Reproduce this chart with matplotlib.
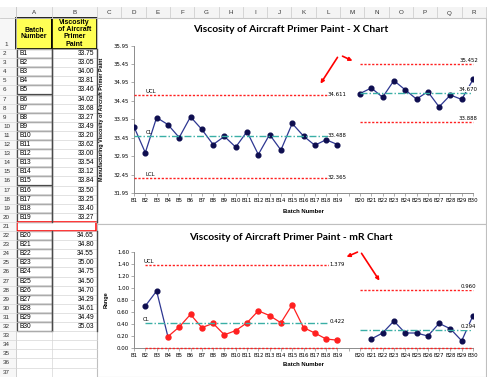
import numpy as np
import matplotlib.pyplot as plt
from matplotlib.patches import Rectangle

plt.rcParams['font.family'] = ['Liberation Sans', 'DejaVu Sans']

# Batch data, first run (B1-B19) and second run (B20-B30)
batches_1 = ['B%d' % i for i in range(1, 20)]
visc_1 = [33.75, 33.05, 34.00, 33.81, 33.46, 34.02, 33.68, 33.27, 33.49, 33.20,
          33.62, 33.00, 33.54, 33.12, 33.84, 33.50, 33.25, 33.40, 33.27]
batches_2 = ['B%d' % i for i in range(20, 31)]
visc_2 = [34.65, 34.80, 34.55, 35.00, 34.75, 34.50, 34.70, 34.29, 34.61, 34.49, 35.03]

# moving ranges (B2-B19 and B21-B30)
mr_1 = [0.70, 0.95, 0.19, 0.35, 0.56, 0.34, 0.41, 0.22, 0.29, 0.42, 0.62, 0.54,
        0.42, 0.72, 0.34, 0.25, 0.15, 0.13]
mr_2 = [0.15, 0.25, 0.45, 0.25, 0.25, 0.20, 0.41, 0.32, 0.12, 0.54]

# control limits for each run
x_lim_1 = {'UCL': 34.611, 'CL': 33.488, 'LCL': 32.365}
x_lim_2 = {'UCL': 35.452, 'CL': 34.670, 'LCL': 33.888}
mr_lim_1 = {'UCL': 1.379, 'CL': 0.422, 'LCL': 0.0}
mr_lim_2 = {'UCL': 0.960, 'CL': 0.294, 'LCL': 0.0}

cat_labels = batches_1 + [''] + batches_2
idx_1 = np.arange(0, 19)
idx_2 = np.arange(20, 31)

NAVY_LINE = '#2E3792'
NAVY_DOT = '#0E0E50'
RED = '#FF2020'
TEAL = '#3AAFA6'

W, H = 487, 377
fig = plt.figure(figsize=(W / 100, H / 100), dpi=100)

#----- worksheet background -----
bg = fig.add_axes([0, 0, 1, 1])
bg.set_xlim(0, W)
bg.set_ylim(H, 0)
bg.axis('off')

col_edges = [0, 16, 52, 97] + [97 + 24.3 * k for k in range(1, 17)]
col_names = ['', 'A', 'B'] + list('CDEFGHIJKLMNOPQR')
head_top, head_bot = 7, 18
row1_bot = 49
rh = 9.1

def row_top(r):
    return row1_bot + (r - 2) * rh

# column header band
bg.add_patch(Rectangle((0, head_top), W, head_bot - head_top, fc='#F4F4F4', ec='none'))
for i in range(len(col_edges) - 1):
    x0, x1 = col_edges[i], col_edges[i + 1]
    bg.plot([x1, x1], [head_top, head_bot], color='#D0D0D0', lw=0.6)
    bg.text((x0 + x1) / 2, 13, col_names[i], ha='center', va='center',
            fontsize=4.5, color='#333333')
bg.plot([0, W], [head_bot, head_bot], color='#C8C8C8', lw=0.6)

# row number column
bg.add_patch(Rectangle((0, head_bot), 16, H - head_bot, fc='#F7F7F7', ec='none'))
bg.plot([16, 16], [head_top, H], color='#C8C8C8', lw=0.6)
bg.text(4, 45, '1', ha='left', va='center', fontsize=4.5, color='#333333')
for r in range(2, 38):
    yc = row_top(r) + rh / 2
    bg.text(3, yc, str(r), ha='left', va='center', fontsize=4.5, color='#333333')
    bg.plot([0, 97], [row_top(r), row_top(r)], color='#D6D6D6', lw=0.5)

# header cells
bg.add_patch(Rectangle((16, head_bot), 36, row1_bot - head_bot, fc='#FFFF55',
                       ec='black', lw=1.2))
bg.add_patch(Rectangle((52, head_bot), 45, row1_bot - head_bot, fc='#FFFF55',
                       ec='black', lw=1.2))
bg.text(34, 30, 'Batch', ha='center', va='center', fontsize=5, fontweight='bold')
bg.text(34, 37, 'Number', ha='center', va='center', fontsize=5, fontweight='bold')
for k, s in enumerate(['Viscosity', 'of Aircraft', 'Primer', 'Paint']):
    bg.text(74.5, 22 + k * 7.5, s, ha='center', va='center', fontsize=5,
            fontweight='bold')

# batch cells
def batch_cell(r, name, val):
    y0 = row_top(r)
    bg.add_patch(Rectangle((16.5, y0), 35, rh, fc='white', ec='#4A4A4A', lw=0.9))
    bg.text(19, y0 + rh / 2, name, ha='left', va='center', fontsize=4.8)
    bg.text(94, y0 + rh / 2, '%.2f' % val, ha='right', va='center', fontsize=4.8)

for k in range(19):
    batch_cell(k + 2, batches_1[k], visc_1[k])
for k in range(11):
    batch_cell(k + 22, batches_2[k], visc_2[k])
for (r0, r1) in [(2, 21), (22, 33)]:
    bg.plot([52, 52], [row_top(r0), row_top(r1)], color='#4A4A4A', lw=1.0)
    bg.plot([96.5, 96.5], [row_top(r0), row_top(r1)], color='#4A4A4A', lw=1.0)
bg.add_patch(Rectangle((17, row_top(21) + 0.5), 79, rh - 1, fc='none', ec='red', lw=1.1))
bg.plot([52, 52], [row_top(33), H], color='#D6D6D6', lw=0.5)

# chart frames
bg.add_patch(Rectangle((97, head_bot), 389, 224 - head_bot, fc='white', ec='#BFBFBF', lw=0.8))
bg.add_patch(Rectangle((97, 224), 389, H - 224, fc='white', ec='#BFBFBF', lw=0.8))

def make_axes(top, bottom):
    left, right = 134, 473
    ax = fig.add_axes([left / W, 1 - bottom / H, (right - left) / W, (bottom - top) / H])
    ax.patch.set_alpha(0)
    for s in ['top', 'right']:
        ax.spines[s].set_visible(False)
    for s in ['left', 'bottom']:
        ax.spines[s].set_color('#8C8C8C')
        ax.spines[s].set_linewidth(0.7)
    ax.set_xlim(0, 30)
    ax.set_xticks(np.arange(31))
    ax.set_xticklabels(cat_labels, fontsize=3.9, family='DejaVu Sans')
    ax.tick_params(axis='both', length=2, width=0.5, color='#8C8C8C', pad=1.5)
    ax.tick_params(axis='y', labelsize=3.9)
    for t in ax.get_yticklabels():
        t.set_family('DejaVu Sans')
    return ax

def limit_lines(ax, idx, lims, val_pos, val_dy, name_pos=None):
    for key in ['UCL', 'CL', 'LCL']:
        v = lims[key]
        if key == 'CL':
            ax.plot(idx, [v] * len(idx), color=TEAL, lw=1.0, ls=(0, (5, 1.5, 1, 1.5)), zorder=4)
        else:
            ax.plot(idx, [v] * len(idx), color=RED, lw=1.0, ls=(0, (1.6, 1.2)), zorder=4,
                    clip_on=False)
        if key == 'LCL' and v == 0:
            continue
        ax.annotate('%.3f' % v, (val_pos, v), xytext=(0, val_dy), textcoords='offset points',
                    ha='center', va='center', fontsize=3.9, family='DejaVu Sans', zorder=5,
                    bbox=dict(fc='white', ec='none', pad=0.2))
        if name_pos is not None:
            ax.annotate(key, (name_pos, v), xytext=(0, 2.6), textcoords='offset points',
                        ha='left', va='center', fontsize=3.9, family='DejaVu Sans', zorder=5)

#----- X chart -----
ax1 = make_axes(45.5, 193.3)
ax1.set_ylim(31.95, 35.95)
ax1.set_yticks(np.arange(31.95, 35.96, 0.5))
ax1.set_yticklabels(['%.2f' % v for v in np.arange(31.95, 35.96, 0.5)],
                    fontsize=3.9, family='DejaVu Sans')
limit_lines(ax1, idx_1, x_lim_1, 18, 0.6, name_pos=1.05)
limit_lines(ax1, idx_2, x_lim_2, 29.6, 2.6)
ax1.plot(idx_1, visc_1, color=NAVY_LINE, lw=0.9, marker='o', ms=3.4,
         mfc=NAVY_DOT, mec=NAVY_DOT, zorder=3)
ax1.plot(idx_2, visc_2, color=NAVY_LINE, lw=0.9, marker='o', ms=3.4,
         mfc=NAVY_DOT, mec=NAVY_DOT, zorder=3)
ax1.set_ylabel('Manufacturing Viscosity of Aircraft Primer Paint', fontsize=3.9,
               fontweight='bold', labelpad=7)
ax1.set_xlabel('Batch Number', fontsize=4.3, fontweight='bold', labelpad=4)

#----- mR chart -----
ax2 = make_axes(252, 348)
ax2.set_ylim(0, 1.6)
ax2.set_yticks(np.arange(0, 1.61, 0.2))
ax2.set_yticklabels(['%.2f' % v for v in np.arange(0, 1.61, 0.2)],
                    fontsize=3.9, family='DejaVu Sans')
limit_lines(ax2, idx_1[1:], mr_lim_1, 18, 0.6, name_pos=0.8)
limit_lines(ax2, idx_2, mr_lim_2, 29.6, 2.6)
ax2.plot(idx_1[1:4], mr_1[:3], color=NAVY_LINE, lw=0.9, zorder=3)
ax2.plot(idx_1[1:3], mr_1[:2], 'o', ms=3.4, mfc=NAVY_DOT, mec=NAVY_DOT, zorder=3)
ax2.plot(idx_1[3:], mr_1[2:], color=RED, lw=0.9, marker='o', ms=3.6,
         mfc=RED, mec=RED, zorder=3)
ax2.plot(idx_2[1:], mr_2, color=NAVY_LINE, lw=0.9, marker='o', ms=3.4,
         mfc=NAVY_DOT, mec=NAVY_DOT, zorder=3)
ax2.set_ylabel('Range', fontsize=3.9, fontweight='bold', labelpad=6)
ax2.set_xlabel('Batch Number', fontsize=4.3, fontweight='bold', labelpad=3)

# titles
bg.text(291, 30, 'Viscosity of Aircraft Primer Paint - X Chart', ha='center',
        va='center', fontsize=7.4, fontweight='bold', family=['Lato', 'DejaVu Sans'])
bg.text(291, 237, 'Viscosity of Aircraft Primer Paint - mR Chart', ha='center',
        va='center', fontsize=7.4, fontweight='bold', family=['Lato', 'DejaVu Sans'])

# arrows pointing at the shifted limits
arrow = dict(arrowstyle='-|>', color='red', lw=1.2, mutation_scale=5)
bg.annotate('', xy=(319, 86), xytext=(339, 55), arrowprops=arrow)
bg.annotate('', xy=(355, 62), xytext=(340, 55), arrowprops=arrow)
bg.annotate('', xy=(344, 258), xytext=(360, 251), arrowprops=arrow)
bg.annotate('', xy=(381, 283), xytext=(360, 251), arrowprops=arrow)

plt.savefig('out.png', dpi=100)
